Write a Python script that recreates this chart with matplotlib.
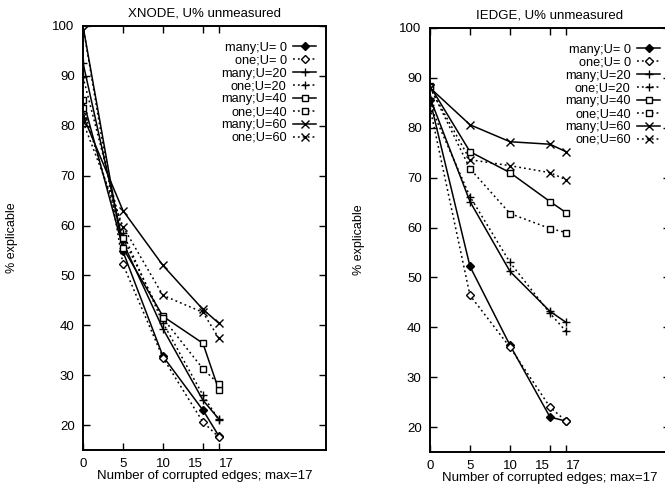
import matplotlib
matplotlib.use("Agg")
import matplotlib.pyplot as plt
import numpy as np

plt.rcParams['font.family'] = ['Liberation Sans', 'DejaVu Sans']

edges = [0, 5, 10, 15, 17]
labels = ['many;U= 0', 'one;U= 0', 'many;U=20', 'one;U=20',
          'many;U=40', 'one;U=40', 'many;U=60', 'one;U=60']

# % explicable, XNODE
xnode = [
    [100, 54.8, 33.8, 23.0, 17.8],
    [100, 52.2, 33.5, 20.6, 17.6],
    [92.6, 56.6, 39.3, 25.0, 21.2],
    [89.8, 58.5, 40.5, 26.0, 21.0],
    [85.2, 55.5, 41.8, 36.4, 27.0],
    [83.6, 57.5, 41.4, 31.3, 28.2],
    [82.0, 63.0, 52.0, 43.2, 40.4],
    [80.8, 59.8, 46.0, 42.6, 37.4],
]
# % explicable, IEDGE
iedge = [
    [85.5, 52.2, 36.4, 22.0, 21.2],
    [84.0, 46.4, 36.0, 24.0, 21.2],
    [86.0, 65.2, 51.2, 43.2, 41.0],
    [84.5, 66.2, 53.0, 42.8, 39.2],
    [88.4, 75.2, 71.0, 65.2, 63.0],
    [88.2, 71.8, 62.8, 59.8, 59.0],
    [88.0, 80.6, 77.2, 76.7, 75.2],
    [88.0, 73.6, 72.4, 71.0, 69.6],
]

markers = ['D', 'D', '+', '+', 's', 's', 'x', 'x']
filled = [True, False, False, False, False, False, False, False]

fig = plt.figure(figsize=(6.65, 4.87), dpi=100)
ax1 = fig.add_axes([83/665, 37/487, 243/665, 424/487])
ax2 = fig.add_axes([430/665, 35/487, 240/665, 424/487])


def draw(ax, data, title, xmax):
    for i, ys in enumerate(data):
        ls = '-' if i % 2 == 0 else (0, (1.2, 2))
        ms = 4.5 if markers[i] in 'Ds' else 6
        ax.plot(edges, ys, color='black', lw=1.1, linestyle=ls,
                marker=markers[i], markersize=ms if markers[i] != 'D' else 4,
                markerfacecolor='black' if filled[i] else 'white',
                markeredgecolor='black', markeredgewidth=1.0,
                label=labels[i])
    ax.set_xlim(0, xmax)
    ax.set_ylim(15, 100)
    ax.set_xticks(edges)
    ax.set_xticklabels(['0', '5', '10', '15', '17'])
    ax.set_yticks(np.arange(20, 101, 10))
    ax.tick_params(direction='in', length=5, width=1, top=True, right=True,
                   labelsize=9.5, pad=6)
    for lab in ax.get_xticklabels():
        if lab.get_text() == '15':
            lab.set_ha('right')
        if lab.get_text() == '17':
            lab.set_ha('left')
    for s in ax.spines.values():
        s.set_linewidth(1.4)
    ax.set_title(title, fontsize=9.5, pad=7)
    ax.set_xlabel('Number of corrupted edges; max=17', fontsize=9.5, labelpad=0)
    ax.set_ylabel('% explicable', fontsize=9, labelpad=25)
    leg = ax.legend(loc='upper right', bbox_to_anchor=(0.98, 0.975),
                    frameon=False, markerfirst=False, fontsize=9.2,
                    handlelength=1.8, handletextpad=0.5, labelspacing=0.07,
                    borderaxespad=0)
    for vp in leg._legend_box._children[-1]._children:
        vp.align = 'right'


draw(ax1, xnode, 'XNODE, U% unmeasured', 30.4)
draw(ax2, iedge, 'IEDGE, U% unmeasured', 30)

fig.savefig('out.png', dpi=100)
